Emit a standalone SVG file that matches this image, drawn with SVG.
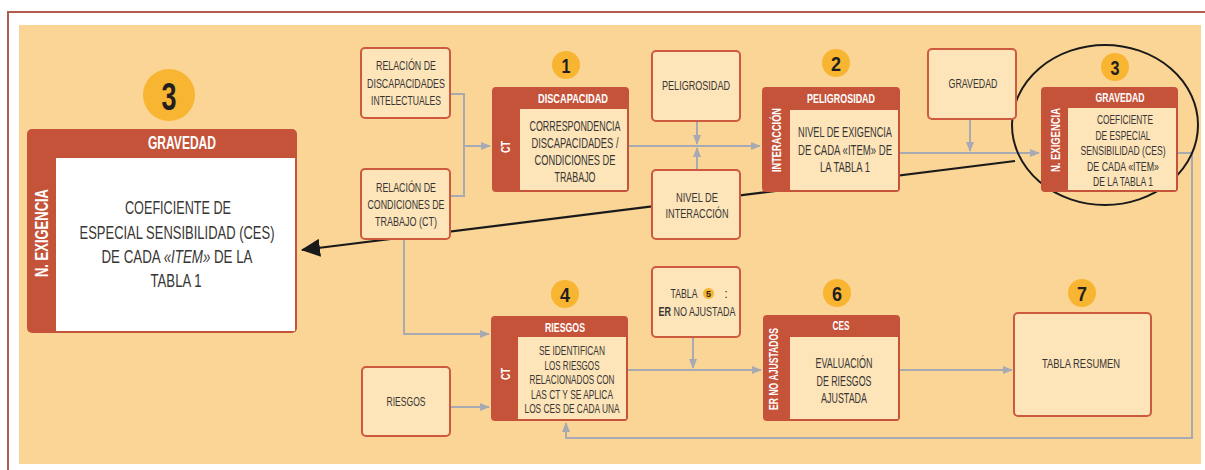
<svg xmlns="http://www.w3.org/2000/svg" width="1205" height="470" viewBox="0 0 1205 470">
<defs>
<style>
text{font-family:"Liberation Sans",Arial,sans-serif;text-anchor:middle}
.t{fill:#383634;font-size:13px}
.b14{font-size:14px}
.h{fill:#ffffff;font-weight:bold;font-size:12px}
.num{fill:#231f20;font-weight:bold;font-size:21px}
.box{fill:#fde4b9;stroke:#cd5a3f;stroke-width:2}
.hdr{fill:#c5533a}
.inner{fill:#fde4b9}
.badge{fill:#f8b531}
.conn{fill:none;stroke:#a7aab3;stroke-width:2}
</style>
<marker id="ag" markerUnits="userSpaceOnUse" markerWidth="10" markerHeight="8" refX="9" refY="4" orient="auto"><path d="M0,0 L10,4 L0,8 z" fill="#a7aab3"/></marker>
<marker id="ab" markerUnits="userSpaceOnUse" markerWidth="19" markerHeight="18" refX="18" refY="9" orient="auto"><path d="M0,0 L19,9 L0,18 z" fill="#1a1a1a"/></marker>
</defs>
<path d="M8,470 V12 H1205" fill="none" stroke="#b15c4d" stroke-width="2"/>
<rect x="19" y="25" width="1182" height="439" fill="#fbd595"/>

<g id="connectors">
<path class="conn" d="M450,94 H464 V196 H450"/>
<path class="conn" d="M464,146 H490" marker-end="url(#ag)"/>
<path class="conn" d="M404,239 V334 H489" marker-end="url(#ag)"/>
<path class="conn" d="M450,407 H489" marker-end="url(#ag)"/>
<path class="conn" d="M629,146 H760" marker-end="url(#ag)"/>
<path class="conn" d="M697,121 V144" marker-end="url(#ag)"/>
<path class="conn" d="M697,170 V148" marker-end="url(#ag)"/>
<path class="conn" d="M900,153 H1039" marker-end="url(#ag)"/>
<path class="conn" d="M970,119 V151" marker-end="url(#ag)"/>
<path class="conn" d="M1178,153 H1192 V438 H566 V423" marker-end="url(#ag)"/>
<path class="conn" d="M628,370 H761" marker-end="url(#ag)"/>
<path class="conn" d="M693,337 V368" marker-end="url(#ag)"/>
<path class="conn" d="M900,370 H1012" marker-end="url(#ag)"/>
<path d="M1015,161 L302,250" fill="none" stroke="#1a1a1a" stroke-width="2.2" marker-end="url(#ab)"/>
<ellipse cx="1105" cy="125" rx="93" ry="80" fill="none" stroke="#1a1a1a" stroke-width="2"/>
</g>

<g id="node-big">
<circle class="badge" cx="169" cy="95" r="26"/>
<text class="num" x="169" y="110" style="font-size:39px" textLength="15" lengthAdjust="spacingAndGlyphs">3</text>
<rect class="hdr" x="27" y="129" width="270" height="204" rx="5"/>
<rect x="56" y="158" width="239" height="173" fill="#ffffff"/>
<text class="h" x="182" y="149" style="font-size:18px" textLength="68" lengthAdjust="spacingAndGlyphs">GRAVEDAD</text>
<text class="h" transform="translate(48,233) rotate(-90)" style="font-size:18px" textLength="88" lengthAdjust="spacingAndGlyphs">N. EXIGENCIA</text>
<text class="t" x="178" y="214" style="font-size:18px" textLength="106" lengthAdjust="spacingAndGlyphs">COEFICIENTE DE</text>
<text class="t" x="177" y="239" style="font-size:18px" textLength="195" lengthAdjust="spacingAndGlyphs">ESPECIAL SENSIBILIDAD (CES)</text>
<text class="t" x="177" y="263" style="font-size:18px" textLength="151" lengthAdjust="spacingAndGlyphs">DE CADA <tspan font-style="italic">«ITEM»</tspan> DE LA</text>
<text class="t" x="176" y="287" style="font-size:18px" textLength="51" lengthAdjust="spacingAndGlyphs">TABLA 1</text>
</g>

<g id="node-rel-disc">
<rect class="box" x="361" y="48" width="89" height="70" rx="4"/>
<text class="t" x="406" y="70" textLength="60" lengthAdjust="spacingAndGlyphs">RELACIÓN DE</text>
<text class="t" x="406" y="88" textLength="78" lengthAdjust="spacingAndGlyphs">DISCAPACIDADES</text>
<text class="t" x="406" y="105" textLength="70" lengthAdjust="spacingAndGlyphs">INTELECTUALES</text>
</g>

<g id="node-rel-ct">
<rect class="box" x="361" y="169" width="89" height="70" rx="4"/>
<text class="t" x="406" y="192" textLength="60" lengthAdjust="spacingAndGlyphs">RELACIÓN DE</text>
<text class="t" x="406" y="209" textLength="77" lengthAdjust="spacingAndGlyphs">CONDICIONES DE</text>
<text class="t" x="406" y="226" textLength="62" lengthAdjust="spacingAndGlyphs">TRABAJO (CT)</text>
</g>

<g id="node-1">
<circle class="badge" cx="566" cy="65" r="14"/>
<text class="num" x="566" y="73" textLength="9" lengthAdjust="spacingAndGlyphs">1</text>
<rect class="hdr" x="492" y="87" width="137" height="105" rx="4"/>
<rect class="inner" x="520" y="109" width="107" height="81"/>
<text class="h" x="573" y="103" textLength="70" lengthAdjust="spacingAndGlyphs">DISCAPACIDAD</text>
<text class="h" transform="translate(510,147) rotate(-90)" textLength="12" lengthAdjust="spacingAndGlyphs">CT</text>
<text class="t b14" x="575" y="131" textLength="91" lengthAdjust="spacingAndGlyphs">CORRESPONDENCIA</text>
<text class="t b14" x="575" y="148" textLength="87" lengthAdjust="spacingAndGlyphs">DISCAPACIDADES /</text>
<text class="t b14" x="575" y="165" textLength="81" lengthAdjust="spacingAndGlyphs">CONDICIONES DE</text>
<text class="t b14" x="575" y="182" textLength="41" lengthAdjust="spacingAndGlyphs">TRABAJO</text>
</g>

<g id="node-peligrosidad">
<rect class="box" x="652" y="51" width="88" height="70" rx="4"/>
<text class="t" x="696" y="90" textLength="68" lengthAdjust="spacingAndGlyphs">PELIGROSIDAD</text>
</g>

<g id="node-nivel">
<rect class="box" x="652" y="170" width="88" height="69" rx="4"/>
<text class="t" x="697" y="202" textLength="42" lengthAdjust="spacingAndGlyphs">NIVEL DE</text>
<text class="t" x="697" y="218" textLength="63" lengthAdjust="spacingAndGlyphs">INTERACCIÓN</text>
</g>

<g id="node-2">
<circle class="badge" cx="836" cy="63" r="14"/>
<text class="num" x="836" y="71" textLength="10" lengthAdjust="spacingAndGlyphs">2</text>
<rect class="hdr" x="762" y="87" width="138" height="105" rx="4"/>
<rect class="inner" x="790" y="110" width="108" height="80"/>
<text class="h" x="841" y="103" textLength="68" lengthAdjust="spacingAndGlyphs">PELIGROSIDAD</text>
<text class="h" transform="translate(781,140) rotate(-90)" textLength="64" lengthAdjust="spacingAndGlyphs">INTERACCIÓN</text>
<text class="t b14" x="845" y="137" textLength="94" lengthAdjust="spacingAndGlyphs">NIVEL DE EXIGENCIA</text>
<text class="t b14" x="845" y="155" textLength="94" lengthAdjust="spacingAndGlyphs">DE CADA «ITEM» DE</text>
<text class="t b14" x="845" y="172" textLength="50" lengthAdjust="spacingAndGlyphs">LA TABLA 1</text>
</g>

<g id="node-gravedad">
<rect class="box" x="928" y="49" width="88" height="70" rx="4"/>
<text class="t" x="973" y="88" textLength="49" lengthAdjust="spacingAndGlyphs">GRAVEDAD</text>
</g>

<g id="node-3">
<circle class="badge" cx="1115" cy="67" r="14"/>
<text class="num" x="1115" y="75" textLength="9" lengthAdjust="spacingAndGlyphs">3</text>
<rect class="hdr" x="1041" y="87" width="137" height="105" rx="4"/>
<rect class="inner" x="1068" y="108" width="108" height="82"/>
<text class="h" x="1120" y="102" textLength="49" lengthAdjust="spacingAndGlyphs">GRAVEDAD</text>
<text class="h" transform="translate(1060,140) rotate(-90)" textLength="64" lengthAdjust="spacingAndGlyphs">N. EXIGENCIA</text>
<text class="t" x="1125" y="124" textLength="56" lengthAdjust="spacingAndGlyphs">COEFICIENTE</text>
<text class="t" x="1123" y="140" textLength="55" lengthAdjust="spacingAndGlyphs">DE ESPECIAL</text>
<text class="t" x="1123" y="155" textLength="85" lengthAdjust="spacingAndGlyphs">SENSIBILIDAD (CES)</text>
<text class="t" x="1123" y="171" textLength="72" lengthAdjust="spacingAndGlyphs">DE CADA «ITEM»</text>
<text class="t" x="1123" y="186" textLength="60" lengthAdjust="spacingAndGlyphs">DE LA TABLA 1</text>
</g>

<g id="node-4">
<circle class="badge" cx="565" cy="294" r="14"/>
<text class="num" x="565" y="302" textLength="10" lengthAdjust="spacingAndGlyphs">4</text>
<rect class="hdr" x="491" y="316" width="137" height="105" rx="4"/>
<rect class="inner" x="518" y="337" width="108" height="82"/>
<text class="h" x="565" y="332" textLength="40" lengthAdjust="spacingAndGlyphs">RIESGOS</text>
<text class="h" transform="translate(510,374) rotate(-90)" textLength="12" lengthAdjust="spacingAndGlyphs">CT</text>
<text class="t" x="572" y="355" textLength="66" lengthAdjust="spacingAndGlyphs">SE IDENTIFICAN</text>
<text class="t" x="572" y="370" textLength="55" lengthAdjust="spacingAndGlyphs">LOS RIESGOS</text>
<text class="t" x="572" y="384" textLength="85" lengthAdjust="spacingAndGlyphs">RELACIONADOS CON</text>
<text class="t" x="572" y="399" textLength="82" lengthAdjust="spacingAndGlyphs">LAS CT Y SE APLICA</text>
<text class="t" x="572" y="413" textLength="95" lengthAdjust="spacingAndGlyphs">LOS CES DE CADA UNA</text>
</g>

<g id="node-riesgos">
<rect class="box" x="362" y="367" width="88" height="69" rx="4"/>
<text class="t" x="406" y="406" textLength="39" lengthAdjust="spacingAndGlyphs">RIESGOS</text>
</g>

<g id="node-tabla5">
<rect class="box" x="652" y="267" width="88" height="70" rx="4"/>
<text class="t" x="684" y="298" textLength="27" lengthAdjust="spacingAndGlyphs">TABLA</text>
<circle class="badge" cx="708.5" cy="293.5" r="5.5"/>
<text class="num" x="708.5" y="297" style="font-size:9px">5</text>
<text class="t" x="726" y="298">:</text>
<text class="t" x="697" y="316" textLength="77" lengthAdjust="spacingAndGlyphs"><tspan font-weight="bold">ER</tspan> NO AJUSTADA</text>
</g>

<g id="node-6">
<circle class="badge" cx="837" cy="293" r="14"/>
<text class="num" x="837" y="301" textLength="10" lengthAdjust="spacingAndGlyphs">6</text>
<rect class="hdr" x="763" y="315" width="137" height="106" rx="4"/>
<rect class="inner" x="790" y="337" width="108" height="82"/>
<text class="h" x="841" y="330" textLength="17" lengthAdjust="spacingAndGlyphs">CES</text>
<text class="h" transform="translate(778,369) rotate(-90)" textLength="82" lengthAdjust="spacingAndGlyphs">ER NO AJUSTADOS</text>
<text class="t b14" x="844" y="368" textLength="57" lengthAdjust="spacingAndGlyphs">EVALUACIÓN</text>
<text class="t b14" x="844" y="386" textLength="55" lengthAdjust="spacingAndGlyphs">DE RIESGOS</text>
<text class="t b14" x="844" y="403" textLength="46" lengthAdjust="spacingAndGlyphs">AJUSTADA</text>
</g>

<g id="node-7">
<circle class="badge" cx="1082" cy="293" r="14"/>
<text class="num" x="1082" y="301" textLength="10" lengthAdjust="spacingAndGlyphs">7</text>
<rect class="box" x="1014" y="313" width="137" height="103" rx="4"/>
<text class="t" x="1081" y="368" textLength="78" lengthAdjust="spacingAndGlyphs">TABLA RESUMEN</text>
</g>
</svg>
